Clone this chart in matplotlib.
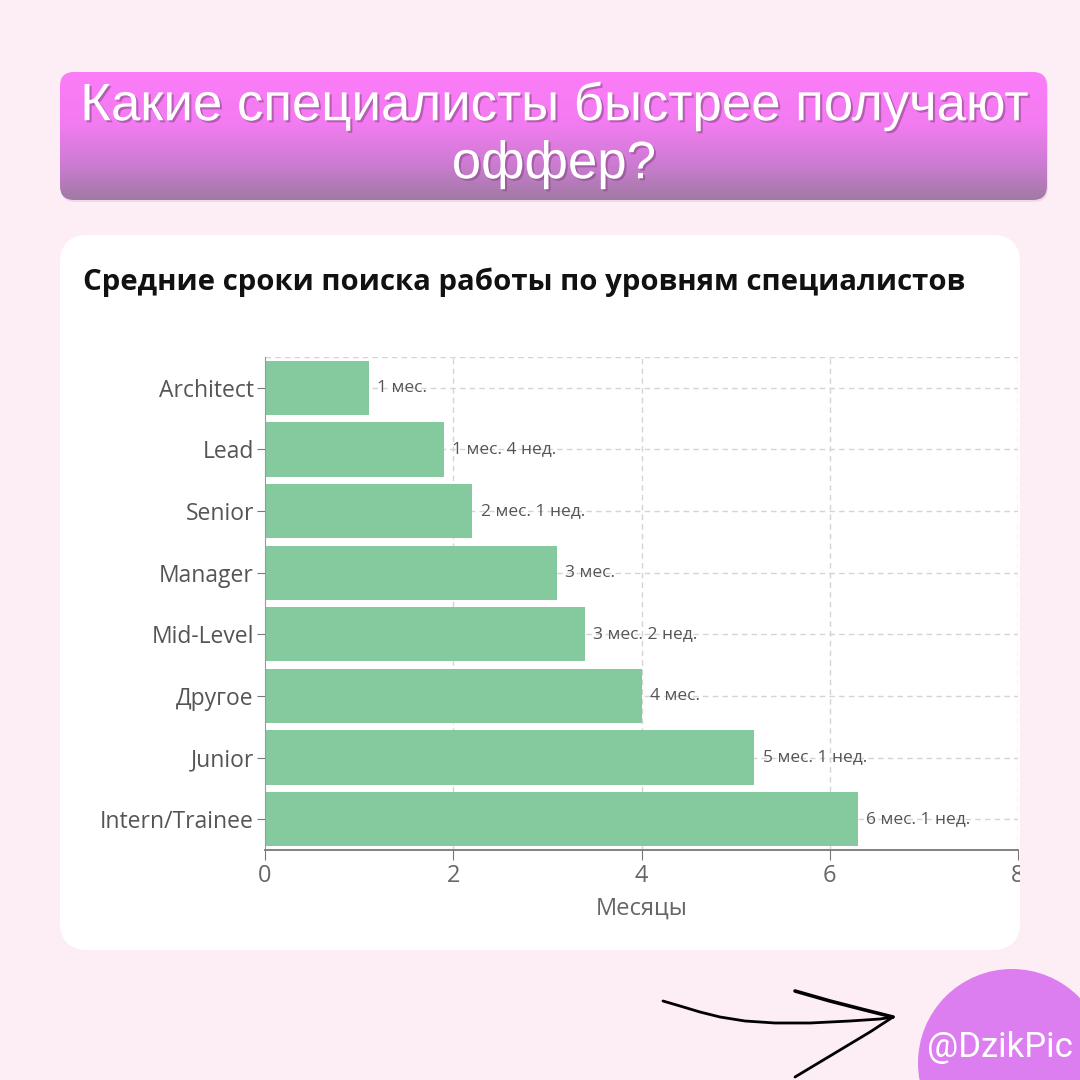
import matplotlib
matplotlib.use('Agg')
import matplotlib.pyplot as plt
import matplotlib.patheffects as pe
from matplotlib.patches import FancyBboxPatch, Circle
from matplotlib.colors import LinearSegmentedColormap
from matplotlib.transforms import Bbox, TransformedBbox
import numpy as np

# data
levels = ['Architect', 'Lead', 'Senior', 'Manager', 'Mid-Level', 'Другое', 'Junior', 'Intern/Trainee']
months = [1.1, 1.9, 2.2, 3.1, 3.4, 4.0, 5.2, 6.3]
value_labels = ['1 мес.', '1 мес. 4 нед.', '2 мес. 1 нед.', '3 мес.', '3 мес. 2 нед.',
                '4 мес.', '5 мес. 1 нед.', '6 мес. 1 нед.']
x_ticks = [0, 2, 4, 6, 8]

plt.rcParams['font.family'] = ['Open Sans', 'DejaVu Sans']

W = 1080
fig = plt.figure(figsize=(10.8, 10.8), dpi=100)
fig.patch.set_facecolor('#fdeef6')

# background layer in pixel coordinates (y downwards)
bg = fig.add_axes([0, 0, 1, 1])
bg.set_xlim(0, W)
bg.set_ylim(W, 0)
bg.axis('off')

# title banner with vertical gradient
shadow = FancyBboxPatch((61, 74), 987, 128, boxstyle='round,pad=0,rounding_size=14',
                        fc='#e2c4df', ec='none', alpha=0.5)
bg.add_patch(shadow)
banner = FancyBboxPatch((60, 72), 987, 128, boxstyle='round,pad=0,rounding_size=14',
                        fc='none', ec='none')
bg.add_patch(banner)
cmap = LinearSegmentedColormap.from_list('banner', [(0, '#fb7df8'), (0.4, '#f37bf1'),
                                                    (0.7, '#cf7cd4'), (1, '#a17aa4')])
grad = np.linspace(0, 1, 256).reshape(-1, 1)
img = bg.imshow(grad, extent=(60, 1047, 200, 72), cmap=cmap, aspect='auto', zorder=2)
img.set_clip_path(banner)
bg.set_xlim(0, W)
bg.set_ylim(W, 0)

title_fx = [pe.withSimplePatchShadow(offset=(1.5, -1.5), shadow_rgbFace='#8a4a8a', alpha=0.6)]
for txt, ty in [('Какие специалисты быстрее получают', 106), ('оффер?', 164)]:
    bg.text(554, ty, txt, ha='center', va='center', color='white', fontsize=38,
            family=['Liberation Sans', 'DejaVu Sans'], path_effects=title_fx, zorder=3)

# white card
card = FancyBboxPatch((60, 235), 960, 715, boxstyle='round,pad=0,rounding_size=28',
                      fc='white', ec='none', zorder=1)
bg.add_patch(card)
bg.text(83, 282, 'Средние сроки поиска работы по уровням специалистов', ha='left', va='center',
        fontsize=21.2, fontweight='bold', color='#111111', zorder=3)

# hand-drawn arrow
bg.plot([663, 680, 700, 720, 745, 775, 810, 850, 880, 893],
        [1001, 1006, 1012, 1017, 1021, 1023, 1023, 1021, 1019, 1017],
        color='black', lw=2, solid_capstyle='round', zorder=3)
bg.plot([795, 830, 865, 893], [991, 1001, 1010, 1017], color='black', lw=2.6,
        solid_capstyle='round', zorder=3)
bg.plot([893, 870, 840, 795], [1017, 1032, 1050, 1077], color='black', lw=2,
        solid_capstyle='round', zorder=3)

# signature circle
bg.add_patch(Circle((1012, 1063), 94, fc='#dc7ef0', ec='none', zorder=2))
bg.text(1000, 1048, '@DzikPic', ha='center', va='center', color='white', fontsize=25,
        family=['Roboto', 'DejaVu Sans'], zorder=3)

# chart
ax = fig.add_axes([265 / W, 1 - 850 / W, (1018 - 265) / W, (850 - 357) / W])
ax.set_facecolor('none')
y = np.arange(len(levels))
ax.barh(y, months, height=0.88, color='#85c99e', zorder=2)
for yi, v, lab in zip(y, months, value_labels):
    ax.text(v + 0.09, yi, lab, va='center', ha='left', fontsize=12.5, color='#555555', zorder=3)

ax.set_ylim(len(levels) - 0.5, -0.5)
ax.set_xlim(0, 8)
ax.set_yticks(y)
ax.set_yticklabels(levels)
ax.set_xticks(x_ticks)
ax.set_xticklabels([str(t) for t in x_ticks])

grid_kw = dict(color='#d4d4d4', lw=1, ls=(0, (4, 3)), zorder=1)
for t in x_ticks[1:]:
    ax.axvline(t, **grid_kw)
for yi in y:
    ax.axhline(yi, **grid_kw)
ax.axhline(-0.5, **grid_kw)

for s in ['top', 'right']:
    ax.spines[s].set_visible(False)
ax.spines['left'].set_color('#999999')
ax.spines['bottom'].set_color('#777777')
ax.spines['bottom'].set_linewidth(1.3)
ax.tick_params(axis='y', length=6, color='#777777', labelsize=16.5, labelcolor='#555555', pad=2)
ax.tick_params(axis='x', length=7, color='#777777', labelsize=17, labelcolor='#666666', pad=3)
ax.set_xlabel('Месяцы', fontsize=17, color='#666666', labelpad=6)

# last tick label is cut by the card edge in the original
lbl = ax.get_xticklabels()[-1]
lbl.set_clip_on(True)
lbl.set_clip_box(TransformedBbox(Bbox([[0, 0], [1020 / W, 1]]), fig.transFigure))

fig.savefig('out.png', dpi=100, facecolor=fig.get_facecolor())
